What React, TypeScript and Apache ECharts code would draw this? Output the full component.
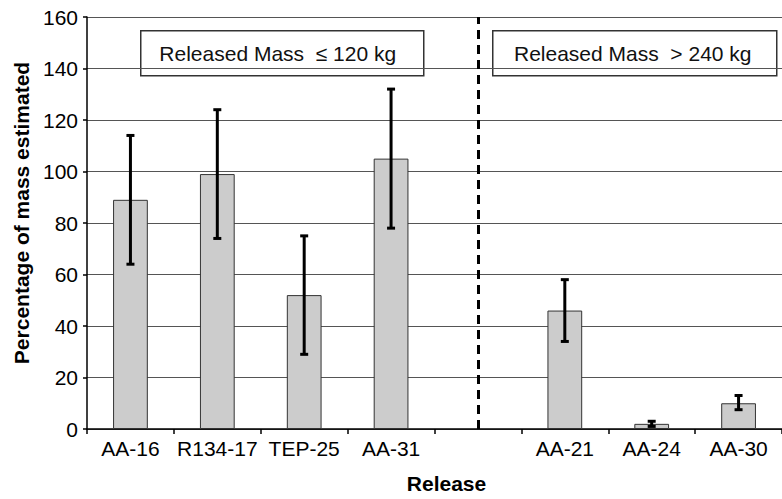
import React, { useEffect, useRef } from "react";
import * as echarts from "echarts";

const categories = ["AA-16", "R134-17", "TEP-25", "AA-31", "", "AA-21", "AA-24", "AA-30"];
const percentEstimated = [89, 99, 52, 105, null, 46, 2, 10];
const errorLow = [64, 74, 29, 78, null, 34, 1, 7.5];
const errorHigh = [114, 124, 75, 132, null, 58, 3, 13];
const yTicks = { min: 0, max: 160, interval: 20 };
const groupLabels = ["Released Mass  \u2264 120 kg", "Released Mass  > 240 kg"];
const dividerIndex = 4;

const FONT = "'Liberation Sans', Arial, sans-serif";

export default function App() {
  const ref = useRef<HTMLDivElement>(null);
  useEffect(() => {
    if (!ref.current) return;
    const chart = echarts.init(ref.current, undefined, { renderer: "svg" });
    const errData = categories
      .map((_, i) => (errorLow[i] == null ? null : [i, errorLow[i], errorHigh[i]]))
      .filter((d) => d !== null);
    chart.setOption({
      animation: false,
      backgroundColor: "#ffffff",
      textStyle: { fontFamily: FONT },
      grid: { left: 87, top: 17, width: 698, height: 415, containLabel: false },
      xAxis: {
        type: "category",
        data: categories,
        boundaryGap: true,
        name: "Release",
        nameLocation: "middle",
        nameGap: 44,
        nameTextStyle: { fontFamily: FONT, fontWeight: "bold", fontSize: 21, color: "#000", padding: [0, 0, 0, 24] },
        axisLine: { lineStyle: { color: "#000", width: 1.5 } },
        axisTick: { show: true, alignWithLabel: false, length: 5, lineStyle: { color: "#000", width: 1.5 } },
        axisLabel: { fontFamily: FONT, fontSize: 21, color: "#000", margin: 9, interval: 0 },
        splitLine: { show: false },
      },
      yAxis: {
        type: "value",
        min: yTicks.min,
        max: yTicks.max,
        interval: yTicks.interval,
        name: "Percentage of mass estimated",
        nameLocation: "middle",
        nameGap: 52,
        nameTextStyle: { fontFamily: FONT, fontWeight: "bold", fontSize: 21, color: "#000", padding: [0, 0, 0, 20] },
        axisLine: { show: true, lineStyle: { color: "#000", width: 1.5 } },
        axisTick: { show: true, length: 4, lineStyle: { color: "#000", width: 1.5 } },
        axisLabel: { fontFamily: FONT, fontSize: 21, color: "#000", margin: 9 },
        splitLine: { show: true, lineStyle: { color: "#555", width: 1.2 } },
      },
      series: [
        {
          type: "bar",
          data: percentEstimated,
          barWidth: "40%",
          itemStyle: { color: "#cccccc", borderColor: "#333", borderWidth: 1 },
          markLine: {
            silent: true,
            symbol: "none",
            label: { show: false },
            lineStyle: { color: "#000", width: 3, type: [9, 6] },
            data: [{ xAxis: dividerIndex }],
          },
          z: 2,
        },
        {
          type: "custom",
          data: errData,
          z: 5,
          renderItem: (params: any, api: any) => {
            const x = api.value(0);
            const lo = api.coord([x, api.value(1)]);
            const hi = api.coord([x, api.value(2)]);
            const cap = 4;
            const style = { stroke: "#000", lineWidth: 3 };
            return {
              type: "group",
              children: [
                { type: "line", shape: { x1: lo[0], y1: lo[1], x2: hi[0], y2: hi[1] }, style },
                { type: "line", shape: { x1: hi[0] - cap, y1: hi[1], x2: hi[0] + cap, y2: hi[1] }, style },
                { type: "line", shape: { x1: lo[0] - cap, y1: lo[1], x2: lo[0] + cap, y2: lo[1] }, style },
              ],
            };
          },
        },
      ],
      graphic: [
        {
          type: "group",
          left: 140,
          top: 30,
          children: [
            { type: "rect", shape: { x: 0, y: 0, width: 283, height: 45 }, style: { fill: "#fff", stroke: "#333", lineWidth: 1.5 } },
            {
              type: "text",
              x: 137,
              y: 22.5,
              style: { text: groupLabels[0], font: `21px ${FONT}`, fill: "#111", align: "center", verticalAlign: "middle" },
            },
          ],
          z: 10,
        },
        {
          type: "group",
          left: 492,
          top: 30,
          children: [
            { type: "rect", shape: { x: 0, y: 0, width: 284, height: 45 }, style: { fill: "#fff", stroke: "#333", lineWidth: 1.5 } },
            {
              type: "text",
              x: 140,
              y: 22.5,
              style: { text: groupLabels[1], font: `21px ${FONT}`, fill: "#111", align: "center", verticalAlign: "middle" },
            },
          ],
          z: 10,
        },
      ],
    });
    return () => chart.dispose();
  }, []);
  return <div ref={ref} style={{ position: "fixed", left: 0, top: 0, width: 782, height: 499 }} />;
}
